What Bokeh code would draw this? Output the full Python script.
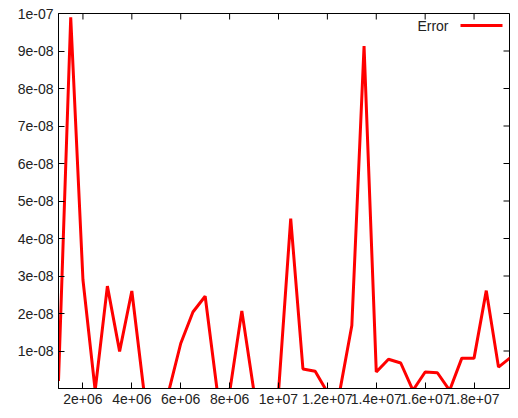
import math
from bokeh.plotting import figure
from bokeh.models import FixedTicker, Label, Arrow, Range1d
from bokeh.embed import file_html
from bokeh.resources import INLINE

# data
x_vals = [1.0e6, 1.5e6, 2.0e6, 2.5e6, 3.0e6, 3.5e6, 4.0e6, 4.5e6, 5.0e6, 5.5e6,
          6.0e6, 6.5e6, 7.0e6, 7.5e6, 8.0e6, 8.5e6, 9.0e6, 9.5e6, 10.0e6, 10.5e6,
          11.0e6, 11.5e6, 12.0e6, 12.5e6, 13.0e6, 13.5e6, 14.0e6, 14.5e6, 15.0e6, 15.5e6,
          16.0e6, 16.5e6, 17.0e6, 17.5e6, 18.0e6, 18.5e6, 19.0e6, 19.5e6]
error_vals = [0.2e-8, 9.9e-8, 2.9e-8, -0.05e-8, 2.73e-8, 0.99e-8, 2.6e-8, -0.1e-8, -0.5e-8, -0.1e-8,
              1.2e-8, 2.04e-8, 2.46e-8, -0.1e-8, -0.1e-8, 2.07e-8, -0.1e-8, -0.5e-8, -0.1e-8, 4.53e-8,
              0.52e-8, 0.46e-8, -0.1e-8, -0.1e-8, 1.68e-8, 9.13e-8, 0.44e-8, 0.78e-8, 0.68e-8, -0.05e-8,
              0.44e-8, 0.42e-8, -0.05e-8, 0.81e-8, 0.81e-8, 2.61e-8, 0.57e-8, 0.83e-8]

x_ticks = [2e6, 4e6, 6e6, 8e6, 1e7, 1.2e7, 1.4e7, 1.6e7, 1.8e7]
x_tick_labels = ["2e+06", "4e+06", "6e+06", "8e+06", "1e+07", "1.2e+07", "1.4e+07", "1.6e+07", "1.8e+07"]
y_ticks = [1e-08, 2e-08, 3e-08, 4e-08, 5e-08, 6e-08, 7e-08, 8e-08, 9e-08, 1e-07]
y_tick_labels = ["1e-08", "2e-08", "3e-08", "4e-08", "5e-08", "6e-08", "7e-08", "8e-08", "9e-08", "1e-07"]

X_MIN, X_MAX = 1e6, 19.45e6
Y_MIN, Y_MAX = 0, 1e-7
FONT = "Liberation Sans"

p = figure(width=510, height=410,
           x_range=Range1d(X_MIN, X_MAX), y_range=Range1d(Y_MIN, Y_MAX),
           output_backend="svg", toolbar_location=None,
           min_border_left=58, min_border_right=1, min_border_top=13, min_border_bottom=22)
p.xgrid.visible = False
p.ygrid.visible = False
p.outline_line_color = "black"
p.outline_line_alpha = 1.0
p.background_fill_color = "white"
p.border_fill_color = "white"

def style(ax, ticks, labels):
    ax.ticker = FixedTicker(ticks=ticks)
    ax.major_label_overrides = {t: l for t, l in zip(ticks, labels)}
    ax.major_tick_in = 6
    ax.major_tick_out = 0
    ax.minor_tick_in = 0
    ax.minor_tick_out = 0
    ax.axis_line_color = "black"
    ax.major_tick_line_color = "black"
    ax.major_label_text_font = FONT
    ax.major_label_text_color = "#222222"
    ax.major_label_text_font_size = "14px"
    ax.major_label_standoff = 5

style(p.xaxis[0], x_ticks, x_tick_labels)
style(p.yaxis[0], y_ticks, y_tick_labels)

# mirrored inward ticks on top and right borders
p.ray(x=x_ticks, y=[Y_MAX] * len(x_ticks), length=6, length_units="screen",
      angle=-math.pi / 2, line_color="black", line_width=1)
p.ray(x=[X_MAX] * len(y_ticks), y=y_ticks, length=6, length_units="screen",
      angle=math.pi, line_color="black", line_width=1)

p.line(x_vals, error_vals, line_color="#ff0000", line_width=3)

p.add_layout(Label(x=390, y=363, x_units="screen", y_units="screen", text="Error",
                   text_align="right", text_baseline="middle",
                   text_font=FONT, text_font_size="14px", text_color="#222222"))
p.add_layout(Arrow(end=None, x_start=402, y_start=363, x_end=444, y_end=363,
                   start_units="screen", end_units="screen",
                   line_color="#ff0000", line_width=3))

open("out.html", "w").write(file_html(p, INLINE))
